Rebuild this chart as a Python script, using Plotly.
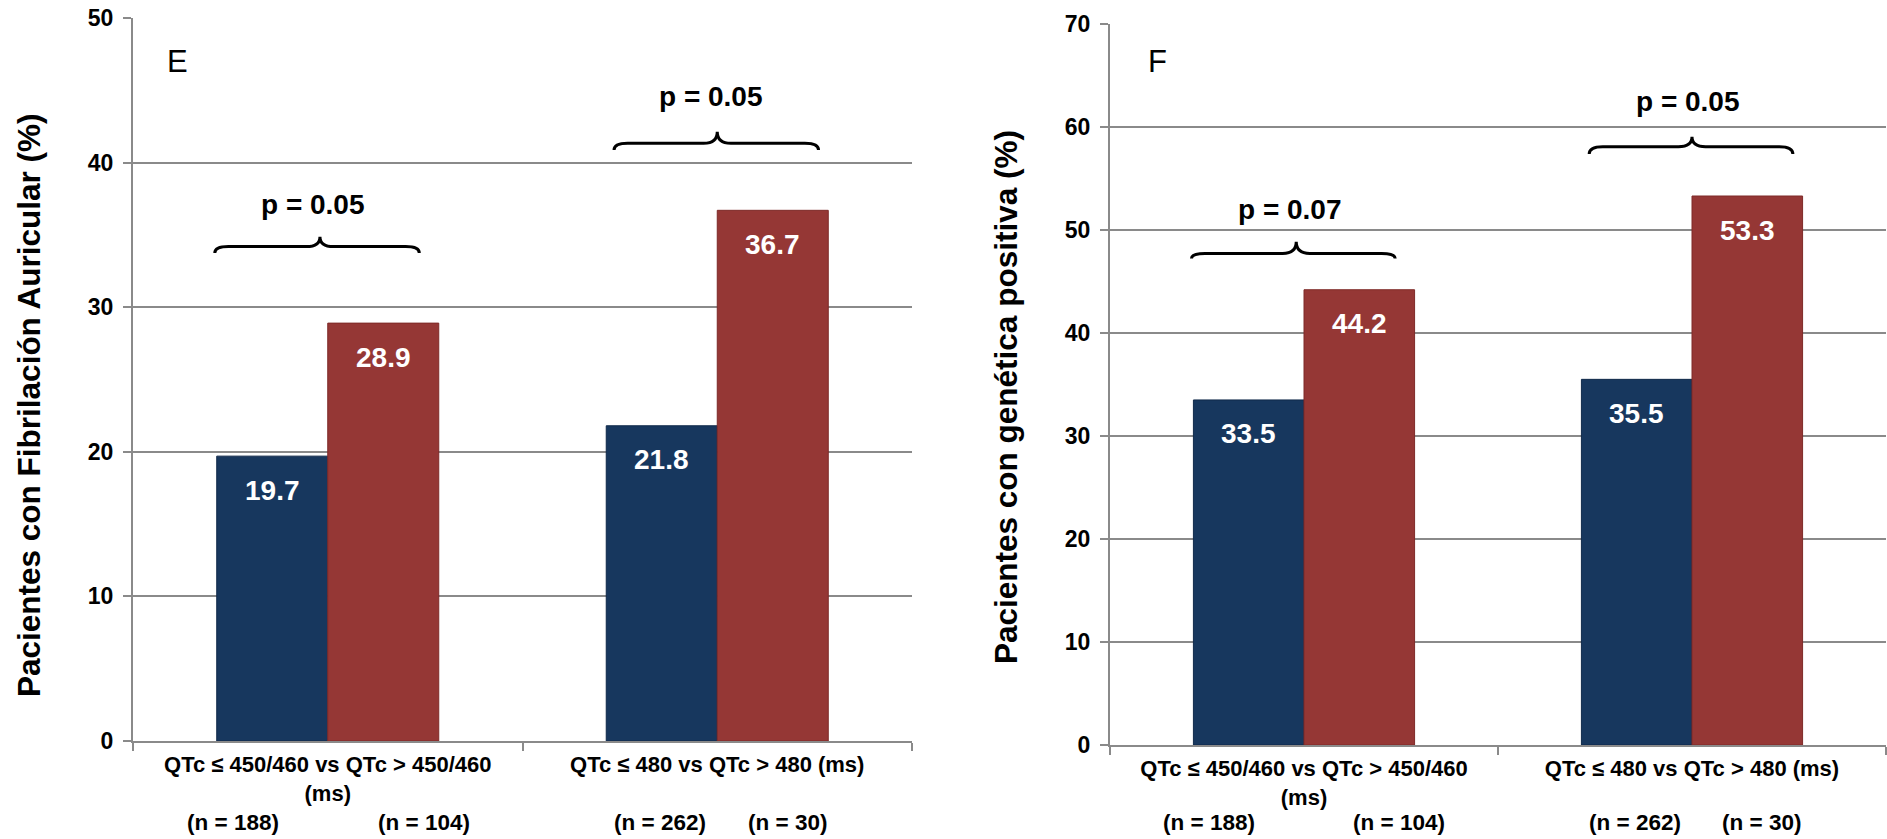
import plotly.graph_objects as go

# ---------------- data ----------------
categories = ["QTc ≤ 450/460 vs QTc > 450/460<br>(ms)", "QTc ≤ 480 vs QTc > 480 (ms)"]
series_names = ["QTc ≤ umbral", "QTc > umbral"]
e_low = [19.7, 21.8]
e_high = [28.9, 36.7]
f_low = [33.5, 35.5]
f_high = [44.2, 53.3]
n_low = ["(n = 188)", "(n = 262)"]
n_high = ["(n = 104)", "(n = 30)"]
e_pvalues = ["p = 0.05", "p = 0.05"]
f_pvalues = ["p = 0.07", "p = 0.05"]
e_title = "Pacientes con Fibrilación Auricular (%)"
f_title = "Pacientes con genética positiva (%)"
panel_letters = ["E", "F"]

# ---------------- style ----------------
W, H = 1887, 839
BLUE = "#17375E"
RED = "#953735"
GRID = "#8a8a8a"
FONT = "Liberation Sans, Arial, sans-serif"
NARROW = "Liberation Sans Narrow, Arial Narrow, sans-serif"

def px_x(p):
    return p / W

def px_y(p):
    return (H - p) / H

fig = go.Figure()

panels = [
    dict(low=e_low, high=e_high, xa="x", ya="y", pvals=e_pvalues,
         ymax=50, xdom=[px_x(133), px_x(912)], ydom=[px_y(741), px_y(18)],
         title=e_title, title_x=29, title_y=406, letter_xy=(177, 61),
         braces=[(-0.29, -0.02, 0.235, 33.75, 34.19, 34.88),
                 (-0.265, 0.0, 0.26, 40.87, 41.34, 42.14)],
         ptext=[(-0.038, 37.1), (-0.015, 44.6)]),
    dict(low=f_low, high=f_high, xa="x2", ya="y2", pvals=f_pvalues,
         ymax=70, xdom=[px_x(1110), px_x(1886)], ydom=[px_y(745), px_y(24)],
         title=f_title, title_x=1006, title_y=397, letter_xy=(1157, 61),
         braces=[(-0.29, -0.02, 0.235, 47.24, 47.73, 48.86),
                 (-0.265, 0.0, 0.26, 57.38, 58.09, 59.06)],
         ptext=[(-0.036, 52.0), (-0.01, 62.5)]),
]

annotations = []
shapes = []
bw = (1 - 0.43) / 2  # bar width in category units

for k, p in enumerate(panels):
    fig.add_trace(go.Bar(x=categories, y=p["low"], name=series_names[0],
                         marker=dict(color=BLUE, line=dict(color="#10294a", width=1)),
                         xaxis=p["xa"], yaxis=p["ya"], showlegend=False, hoverinfo="y"))
    fig.add_trace(go.Bar(x=categories, y=p["high"], name=series_names[1],
                         marker=dict(color=RED, line=dict(color="#7e2a28", width=1)),
                         xaxis=p["xa"], yaxis=p["ya"], showlegend=False, hoverinfo="y"))

    axx = "xaxis" if k == 0 else "xaxis2"
    axy = "yaxis" if k == 0 else "yaxis2"
    fig.update_layout(**{
        axx: dict(domain=p["xdom"], anchor=p["ya"], range=[-0.5, 1.5],
                  showline=True, linecolor=GRID, linewidth=2,
                  ticks="outside", tickson="boundaries", ticklen=8, tickwidth=1.5,
                  tickcolor=GRID, showgrid=False, automargin=False,
                  tickfont=dict(family=FONT, size=22, color="black", weight="bold"),
                  ticklabelstandoff=3),
        axy: dict(domain=p["ydom"], anchor=p["xa"], range=[0, p["ymax"]], dtick=10,
                  showline=True, linecolor=GRID, linewidth=2, automargin=False,
                  ticks="outside", ticklen=8, tickwidth=1.5, tickcolor=GRID,
                  showgrid=True, gridcolor=GRID, gridwidth=1.5, zeroline=False,
                  tickfont=dict(family=FONT, size=23, color="black", weight="bold"),
                  ticklabelstandoff=5),
    })

    # value labels inside bars
    for i in range(len(categories)):
        for off, vals in ((-bw / 2, p["low"]), (bw / 2, p["high"])):
            annotations.append(dict(
                x=i + off, y=vals[i], xref=p["xa"], yref=p["ya"],
                text=f"{vals[i]:.1f}", showarrow=False, yshift=-34,
                font=dict(family=FONT, size=28, color="white", weight="bold"),
                xanchor="center", yanchor="middle"))

    # sample sizes
    n_offsets = [(-0.244, 0.246), (-0.146, 0.18)]
    for i in range(len(categories)):
        for off, lab in ((n_offsets[i][0], n_low[i]), (n_offsets[i][1], n_high[i])):
            annotations.append(dict(
                x=i + off, y=px_y(822), xref=p["xa"], yref="paper",
                text=lab, showarrow=False,
                font=dict(family=FONT, size=22.5, color="black", weight="bold"),
                xanchor="center", yanchor="middle"))

    # p-values and braces
    for i in range(len(categories)):
        xl, xt, xr, ye, yf, yt = p["braces"][i]
        xl += i; xt += i; xr += i
        d = 0.035
        path = (f"M {xl},{ye} Q {xl},{yf} {xl + d},{yf} L {xt - d},{yf} "
                f"Q {xt},{yf} {xt},{yt} Q {xt},{yf} {xt + d},{yf} "
                f"L {xr - d},{yf} Q {xr},{yf} {xr},{ye}")
        shapes.append(dict(type="path", path=path, xref=p["xa"], yref=p["ya"],
                           line=dict(color="black", width=3)))
        tx, ty = p["ptext"][i]
        annotations.append(dict(
            x=i + tx, y=ty, xref=p["xa"], yref=p["ya"], text=p["pvals"][i],
            showarrow=False, font=dict(family=FONT, size=28, color="black", weight="bold"),
            xanchor="center", yanchor="middle"))

    # y-axis title
    annotations.append(dict(
        x=px_x(p["title_x"]), y=px_y(p["title_y"]), xref="paper", yref="paper",
        text=p["title"], textangle=-90, showarrow=False,
        font=dict(family=FONT, size=31.5, color="black", weight="bold"),
        xanchor="center", yanchor="middle"))

    # panel letter
    lx, ly = p["letter_xy"]
    annotations.append(dict(
        x=px_x(lx), y=px_y(ly), xref="paper", yref="paper", text=panel_letters[k],
        showarrow=False, font=dict(family=NARROW, size=31, color="black"),
        xanchor="center", yanchor="middle"))

fig.update_layout(
    width=W, height=H,
    margin=dict(l=0, r=0, t=0, b=0, autoexpand=False),
    paper_bgcolor="white", plot_bgcolor="white",
    barmode="group", bargap=0.43, bargroupgap=0,
    annotations=annotations, shapes=shapes,
    font=dict(family=FONT, color="black"),
)

fig.write_html("out.html")
